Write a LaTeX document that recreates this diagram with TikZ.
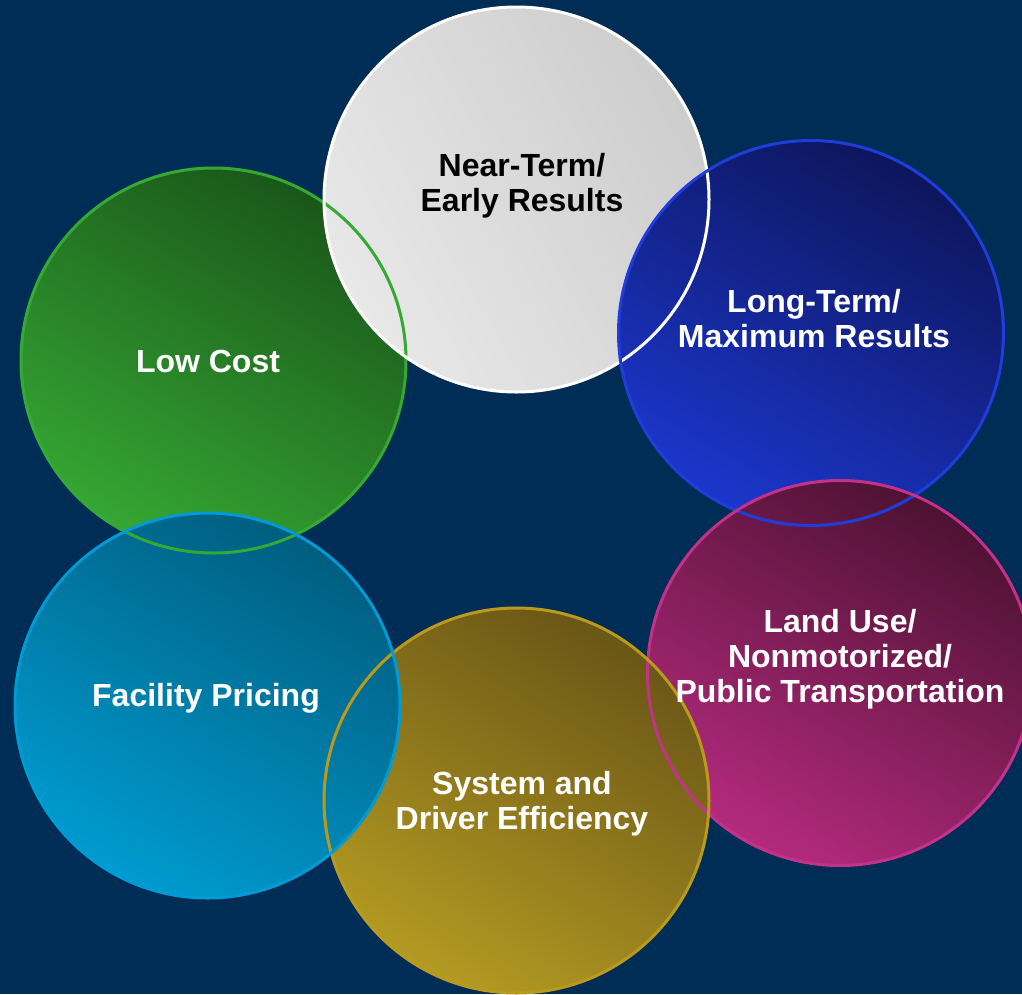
\documentclass[tikz,border=0pt]{standalone}
\usepackage{fontspec}
\setmainfont{Liberation Sans}
\usepackage{tikz}

\definecolor{bgnavy}{HTML}{002D55}
\definecolor{grayhi}{HTML}{E8E8E8}
\definecolor{graylo}{HTML}{CDCDCD}
\definecolor{bluehi}{HTML}{1B36CC}
\definecolor{bluelo}{HTML}{0D165C}
\definecolor{blueline}{HTML}{1F3DDA}
\definecolor{greenhi}{HTML}{35A633}
\definecolor{greenlo}{HTML}{1A571A}
\definecolor{greenline}{HTML}{34AA34}
\definecolor{tealhi}{HTML}{009BD0}
\definecolor{teallo}{HTML}{005E80}
\definecolor{tealline}{HTML}{009AD4}
\definecolor{goldhi}{HTML}{B39A22}
\definecolor{goldlo}{HTML}{6A5616}
\definecolor{goldline}{HTML}{BA9A1E}
\definecolor{pinkhi}{HTML}{B42A7E}
\definecolor{pinklo}{HTML}{4E1233}
\definecolor{pinkline}{HTML}{C2328A}

\begin{document}
\begin{tikzpicture}[x=1pt,y=-1pt]
                \tikzstyle{bubble}=[circle,minimum size=385pt,inner sep=0pt]
                \tikzstyle{ring}=[circle,minimum size=385pt,inner sep=0pt,line width=3pt]
                \tikzstyle{caption}=[align=center,text=white,font=\fontsize{32}{35}\selectfont\bfseries]

                \useasboundingbox (0,0) rectangle (1022,994);
                \clip (0,0) rectangle (1022,994);
                \fill[bgnavy] (0,0) rectangle (1022,994);

                % fills, back to front
                \node[bubble, top color=greenlo, bottom color=greenhi, shading angle=-30] (lowcost)   at (213.5,360.5) {};
                \node[bubble, top color=graylo,  bottom color=grayhi,  shading angle=-60] (nearterm)  at (516.5,199.5) {};
                \node[bubble, top color=bluelo,  bottom color=bluehi,  shading angle=-30] (longterm)  at (811,333)     {};
                \node[bubble, top color=pinklo,  bottom color=pinkhi,  shading angle=-30] (landuse)   at (840,673)     {};
                \node[bubble, top color=goldlo,  bottom color=goldhi,  shading angle=-30] (system)    at (516.5,800.5) {};
                \node[bubble, top color=teallo,  bottom color=tealhi,  shading angle=-30] (facility)  at (207.5,705.5) {};

                % outlines on top
                \node[ring, draw=greenline] at (lowcost)  {};
                \node[ring, draw=white]     at (nearterm) {};
                \node[ring, draw=blueline]  at (longterm) {};
                \node[ring, draw=pinkline]  at (landuse)  {};
                \node[ring, draw=goldline]  at (system)   {};
                \node[ring, draw=tealline]  at (facility) {};

                % labels
                \node[caption, text=black] (neartermtext) at (522,186) {Near-Term/\\Early Results};
                \node[caption] (longtermtext) at (814,319) {Long-Term/\\Maximum Results};
                \node[caption] (lowcosttext)  at (208,361) {Low Cost};
                \node[caption] (landusetext)  at (840,659) {Land Use/\\Nonmotorized/\\Public Transportation};
                \node[caption] (systemtext)   at (522,804) {System and\\Driver Efficiency};
                \node[caption] (facilitytext) at (206,698) {Facility Pricing};
\end{tikzpicture}
\end{document}
